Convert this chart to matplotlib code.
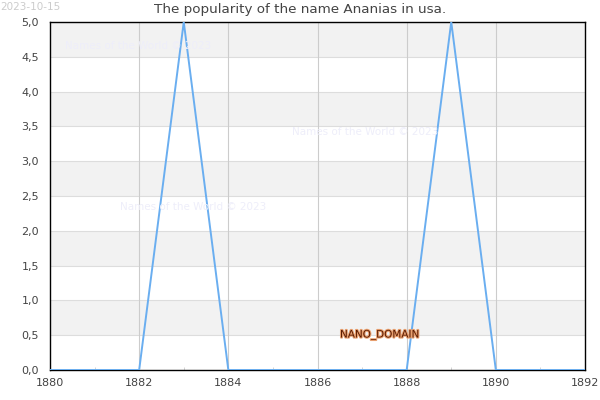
import matplotlib
matplotlib.use('Agg')
import matplotlib.pyplot as plt
import matplotlib.patheffects as pe
from matplotlib.ticker import FuncFormatter, MultipleLocator

years = [1880, 1881, 1882, 1883, 1884, 1885, 1886, 1887, 1888, 1889, 1890, 1891, 1892]
counts = [0, 0, 0, 5, 0, 0, 0, 0, 0, 5, 0, 0, 0]
yticks = [0.0, 0.5, 1.0, 1.5, 2.0, 2.5, 3.0, 3.5, 4.0, 4.5, 5.0]

fig = plt.figure(figsize=(6, 4), dpi=100)
ax = fig.add_axes([50/600, 30/400, 535/600, 348/400])

# alternating bands
for i in range(len(yticks) - 1):
    if i % 2 == 1:
        ax.axhspan(yticks[i], yticks[i+1], color='#f2f2f2', zorder=0, lw=0)
for y in yticks:
    ax.axhline(y, color='#dddddd', lw=0.8, zorder=0.5)
for x in range(1882, 1892, 2):
    ax.axvline(x, color='#cccccc', lw=0.8, zorder=0.5)

ax.plot(years, counts, color='#6aaef0', lw=1.4, zorder=3)

ax.set_xlim(1880, 1892)
ax.set_ylim(0, 5)
ax.set_yticks(yticks)
ax.yaxis.set_major_formatter(FuncFormatter(lambda v, p: ('%.1f' % v).replace('.', ',')))
ax.xaxis.set_major_locator(MultipleLocator(2))
ax.xaxis.set_minor_locator(MultipleLocator(1))
ax.tick_params(axis='both', labelsize=8, colors='#444444', length=0)
ax.tick_params(axis='x', which='minor', length=2, color='#cccccc', direction='in')
ax.tick_params(axis='x', pad=6)
ax.tick_params(axis='y', pad=8)
for s in ax.spines.values():
    s.set_color('black')
    s.set_linewidth(1)

fig.text(0.5, 0.975, 'The popularity of the name Ananias in usa.', ha='center', va='center',
         fontsize=9.7, color='#444444')
fig.text(0.0, 0.995, '2023-10-15', ha='left', va='top', fontsize=7.5, color='#cccccc')

wm = 'Names of the World \u00a9 2023'
for (x, y) in [(65, 46), (120, 207), (292, 132)]:
    fig.text(x/600, 1 - y/400, wm, ha='left', va='center', fontsize=7.5, color='#eeeefa')

fig.text(340/600, 1 - 335/400, 'NANO_DOMAIN', ha='left', va='center', fontsize=7.5,
         color='#5a1a00',
         path_effects=[pe.withStroke(linewidth=1.5, foreground='#e8a070')])

plt.savefig('out.png', dpi=100)
